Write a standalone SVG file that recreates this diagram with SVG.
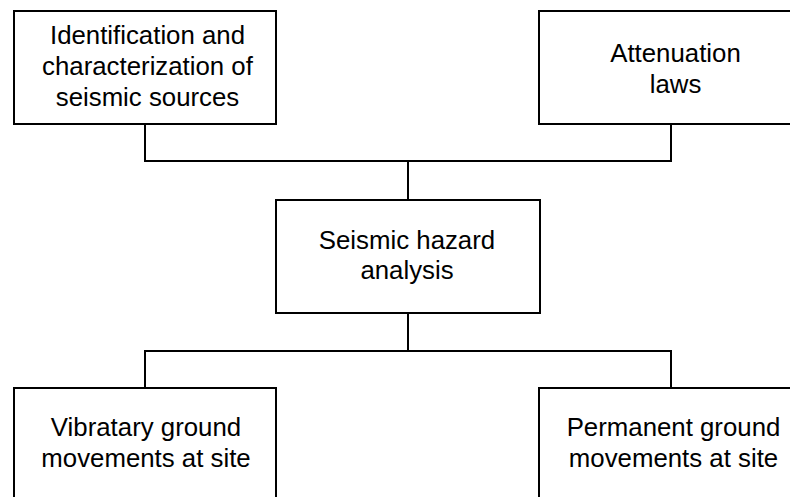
<svg xmlns="http://www.w3.org/2000/svg" width="790" height="497" viewBox="0 0 790 497">
<style>
.box{fill:#fff;stroke:#000;stroke-width:2}
.conn{fill:none;stroke:#000;stroke-width:2}
text{font-family:"Liberation Sans",Arial,sans-serif;font-size:25.8px;fill:#000;text-anchor:middle}
</style>
<rect width="790" height="497" fill="#fff"/>
<g id="connectors">
<path class="conn" d="M145,124 V161 H671 V124"/>
<path class="conn" d="M408,161 V200"/>
<path class="conn" d="M408,313 V351"/>
<path class="conn" d="M145,388 V351 H671 V388"/>
</g>
<g id="node-sources">
<rect class="box" x="14" y="11" width="262" height="113"/>
<text x="147.5" y="44">Identification and</text>
<text x="147.5" y="75">characterization of</text>
<text x="147.5" y="106">seismic sources</text>
</g>
<g id="node-attenuation">
<rect class="box" x="539" y="11" width="262" height="113"/>
<text x="675.5" y="62">Attenuation</text>
<text x="675.5" y="93">laws</text>
</g>
<g id="node-hazard">
<rect class="box" x="276" y="200" width="264" height="113"/>
<text x="407" y="249">Seismic hazard</text>
<text x="407" y="279">analysis</text>
</g>
<g id="node-vibratory">
<rect class="box" x="14" y="388" width="262" height="120"/>
<text x="146" y="436">Vibratary ground</text>
<text x="146" y="467">movements at site</text>
</g>
<g id="node-permanent">
<rect class="box" x="539" y="388" width="262" height="120"/>
<text x="673.5" y="436">Permanent ground</text>
<text x="673.5" y="467">movements at site</text>
</g>
</svg>
